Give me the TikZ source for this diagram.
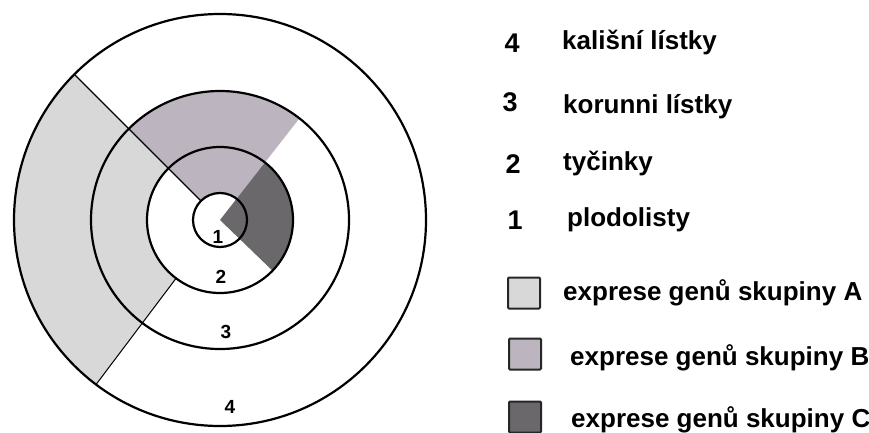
\documentclass[tikz,border=0pt]{standalone}
\usepackage{fontspec}
\setmainfont{Liberation Sans}
\usetikzlibrary{positioning}
\definecolor{GeneA}{RGB}{216,216,216}
\definecolor{GeneB}{RGB}{188,180,190}
\definecolor{GeneC}{RGB}{106,104,106}
\tikzset{
  whorl/.style={draw=black,line width=2.2pt},
  border/.style={draw=black,line width=1.3pt},
  whorlnum/.style={font=\fontsize{19}{22}\selectfont\bfseries,inner sep=0pt},
  legnum/.style={font=\fontsize{27}{30}\selectfont\bfseries,inner sep=0pt},
  legtext/.style={font=\fontsize{26}{30}\selectfont\bfseries,inner sep=0pt,
    anchor=base west},
  legbox/.style={draw=black!85,line width=2pt,rounded corners=1pt,
    minimum width=32pt,minimum height=31pt,inner sep=0pt},
}
\begin{document}
\begin{tikzpicture}[x=1pt,y=1pt]
  \useasboundingbox (0,0) rectangle (869,432);
  \begin{scope}[shift={(220,212)}]
    % expression sectors
    \fill[GeneA] (135:206) arc[start angle=135,end angle=233,radius=206]
      -- (233:73) arc[start angle=233,end angle=135,radius=73] -- cycle;
    \fill[GeneB] (52:129) arc[start angle=52,end angle=135,radius=129]
      -- (135:27) arc[start angle=135,end angle=52,radius=27] -- cycle;
    \fill[GeneC] (0,0) -- (-44:73) arc[start angle=-44,end angle=52,radius=73]
      -- cycle;
    % whorls
    \draw[whorl] (0,0) circle[radius=206];
    \draw[whorl] (0,0) circle[radius=129];
    \draw[whorl] (0,0) circle[radius=73];
    \draw[whorl] (0,0) circle[radius=27];
    \draw[border] (135:206) -- (135:27);
    \draw[border,line width=1pt] (233:206) -- (233:73);
    \node[whorlnum] (w1) at (-2,-17) {1};
    \node[whorlnum] (w2) at (1,-57) {2};
    \node[whorlnum] (w3) at (6,-112) {3};
    \node[whorlnum] (w4) at (10,-187) {4};
  \end{scope}
  % legend
  \node[legnum] (n4) at (512,389) {4};
  \node[legtext] (t4) at (562,382) {kališní lístky};
  \node[legnum] (n3) at (510,330) {3};
  \node[legtext] (t3) at (563,319) {korunni lístky};
  \node[legnum] (n2) at (513,268) {2};
  \node[legtext] (t2) at (563,262) {tyčinky};
  \node[legnum] (n1) at (515,212) {1};
  \node[legtext] (t1) at (567,206) {plodolisty};
  \node[legbox,fill=GeneA] (ba) at (524,139) {};
  \node[legtext] (ta) at (563,132) {exprese genů skupiny A};
  \node[legbox,fill=GeneB] (bb) at (525,78) {};
  \node[legtext] (tb) at (570,67) {exprese genů skupiny B};
  \node[legbox,fill=GeneC] (bc) at (525,15) {};
  \node[legtext] (tc) at (571,5) {exprese genů skupiny C};
\end{tikzpicture}
\end{document}
